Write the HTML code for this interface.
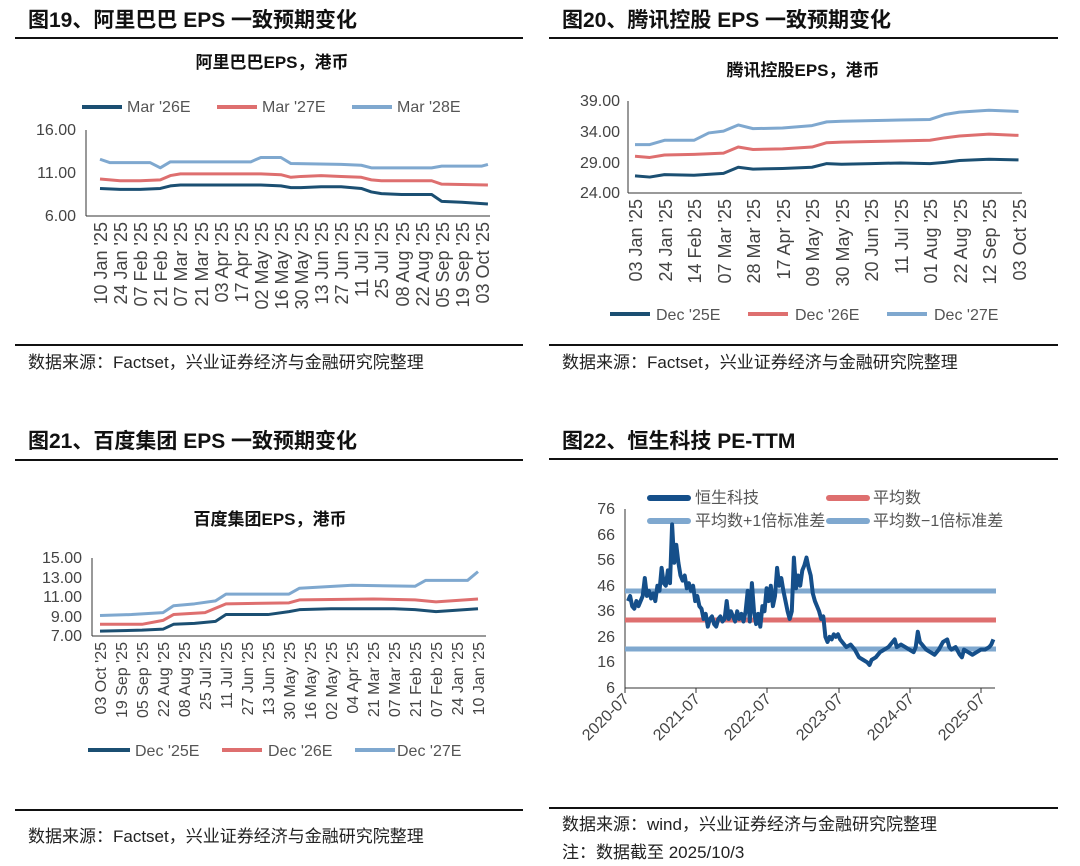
<!DOCTYPE html>
<html><head><meta charset="utf-8"><style>
html,body{margin:0;padding:0;background:#fff;}
svg{display:block;font-family:"Liberation Sans","Noto Sans CJK SC",sans-serif;}
.t{font-size:21px;font-weight:bold;fill:#111}
.ct{font-size:17px;font-weight:bold;fill:#111}
.s{font-size:17px;fill:#222}
.tk{font-size:16px;fill:#444}
.xl{font-size:18px;fill:#444}
.xl3{font-size:16px;fill:#444}
.xl4{font-size:16px;fill:#444}
.lg{font-size:16px;fill:#555}
</style></head><body>
<svg width="1080" height="866" viewBox="0 0 1080 866" xmlns="http://www.w3.org/2000/svg">
<!-- Panel 1 -->
<text x="28" y="27" class="t">图19、阿里巴巴 EPS 一致预期变化</text>
<line x1="15" y1="38" x2="523" y2="38" stroke="#111" stroke-width="2"/>
<text x="272" y="68" class="ct" text-anchor="middle">阿里巴巴EPS，港币</text>
<line x1="82" y1="107" x2="122" y2="107" stroke="#1b4f72" stroke-width="4"/><text x="127" y="112" class="lg">Mar '26E</text>
<line x1="217" y1="107" x2="257" y2="107" stroke="#de6f6f" stroke-width="4"/><text x="262" y="112" class="lg">Mar '27E</text>
<line x1="352" y1="107" x2="392" y2="107" stroke="#7fa8cf" stroke-width="4"/><text x="397" y="112" class="lg">Mar '28E</text>
<g class="tk" text-anchor="end"><text x="76" y="135">16.00</text><text x="76" y="178">11.00</text><text x="76" y="221">6.00</text></g>
<line x1="86" y1="130" x2="86" y2="216" stroke="#333"/><line x1="86" y1="216" x2="490" y2="216" stroke="#333"/>
<g transform="translate(100,216) scale(20.1,-8.6) translate(0,-6)" fill="none" stroke-width="3" stroke-linejoin="round">
<polyline vector-effect="non-scaling-stroke" stroke="#7fa8cf" points="0,12.6 0.5,12.2 2,12.2 2.5,12.2 3,11.6 3.5,12.3 7.5,12.3 8,12.8 9,12.8 9.5,12.1 12,12.0 13,11.9 13.5,11.6 16.5,11.6 17,11.8 19,11.8 19.3,12.0"/>
<polyline vector-effect="non-scaling-stroke" stroke="#de6f6f" points="0,10.3 1,10.1 2,10.1 3,10.2 3.5,10.7 4,10.9 8,10.9 9,10.8 9.5,10.5 10,10.6 11,10.7 12,10.6 13,10.5 13.5,10.2 14,10.1 16.5,10.1 17,9.7 19.3,9.6"/>
<polyline vector-effect="non-scaling-stroke" stroke="#1b4f72" points="0,9.2 1,9.1 2,9.1 3,9.2 3.5,9.5 4,9.6 8,9.6 9,9.5 9.5,9.3 10,9.3 11,9.4 12,9.4 13,9.2 13.5,8.8 14,8.6 15,8.5 16.5,8.5 17,7.7 18,7.6 19.3,7.4"/>
</g>
<g class="xl" text-anchor="end">
<text transform="translate(107,222) rotate(-90)">10 Jan '25</text><text transform="translate(127,222) rotate(-90)">24 Jan '25</text><text transform="translate(147,222) rotate(-90)">07 Feb '25</text><text transform="translate(167,222) rotate(-90)">21 Feb '25</text><text transform="translate(187,222) rotate(-90)">07 Mar '25</text><text transform="translate(208,222) rotate(-90)">21 Mar '25</text><text transform="translate(228,222) rotate(-90)">03 Apr '25</text><text transform="translate(248,222) rotate(-90)">17 Apr '25</text><text transform="translate(268,222) rotate(-90)">02 May '25</text><text transform="translate(288,222) rotate(-90)">16 May '25</text><text transform="translate(308,222) rotate(-90)">30 May '25</text><text transform="translate(328,222) rotate(-90)">13 Jun '25</text><text transform="translate(348,222) rotate(-90)">27 Jun '25</text><text transform="translate(368,222) rotate(-90)">11 Jul '25</text><text transform="translate(388,222) rotate(-90)">25 Jul '25</text><text transform="translate(409,222) rotate(-90)">08 Aug '25</text><text transform="translate(429,222) rotate(-90)">22 Aug '25</text><text transform="translate(449,222) rotate(-90)">05 Sep '25</text><text transform="translate(469,222) rotate(-90)">19 Sep '25</text><text transform="translate(489,222) rotate(-90)">03 Oct '25</text>
</g>
<line x1="15" y1="345" x2="523" y2="345" stroke="#111" stroke-width="2"/>
<text x="28" y="368" class="s">数据来源：Factset，兴业证券经济与金融研究院整理</text>

<!-- Panel 2 -->
<text x="562" y="27" class="t">图20、腾讯控股 EPS 一致预期变化</text>
<line x1="549" y1="38" x2="1058" y2="38" stroke="#111" stroke-width="2"/>
<text x="803" y="76" class="ct" text-anchor="middle">腾讯控股EPS，港币</text>
<g class="tk" text-anchor="end"><text x="620" y="106">39.00</text><text x="620" y="137">34.00</text><text x="620" y="168">29.00</text><text x="620" y="198">24.00</text></g>
<line x1="628" y1="101" x2="628" y2="193" stroke="#333"/><line x1="628" y1="193" x2="1022" y2="193" stroke="#333"/>
<g transform="translate(635,193) scale(29.5,-6.13) translate(0,-24)" fill="none" stroke-width="3" stroke-linejoin="round">
<polyline vector-effect="non-scaling-stroke" stroke="#7fa8cf" points="0,31.9 0.5,31.9 1,32.6 2,32.6 2.5,33.8 3,34.1 3.5,35.1 4,34.5 5,34.6 6,35.0 6.5,35.6 7,35.7 8,35.8 9,35.9 10,36.0 10.5,36.8 11,37.2 12,37.5 13,37.3"/>
<polyline vector-effect="non-scaling-stroke" stroke="#de6f6f" points="0,30.0 0.5,29.8 1,30.2 2,30.3 3,30.5 3.5,31.5 4,31.1 5,31.2 6,31.5 6.5,32.2 7,32.3 8,32.4 9,32.5 10,32.6 10.5,33.0 11,33.3 12,33.6 13,33.4"/>
<polyline vector-effect="non-scaling-stroke" stroke="#1b4f72" points="0,26.8 0.5,26.6 1,27 2,26.9 3,27.2 3.5,28.2 4,27.9 5,28.0 6,28.2 6.5,28.8 7,28.7 8,28.8 9,28.9 10,28.8 10.5,29.0 11,29.3 12,29.5 13,29.4"/>
</g>
<g class="xl" text-anchor="end">
<text transform="translate(642,199) rotate(-90)">03 Jan '25</text><text transform="translate(672,199) rotate(-90)">24 Jan '25</text><text transform="translate(701,199) rotate(-90)">14 Feb '25</text><text transform="translate(731,199) rotate(-90)">07 Mar '25</text><text transform="translate(760,199) rotate(-90)">28 Mar '25</text><text transform="translate(790,199) rotate(-90)">17 Apr '25</text><text transform="translate(819,199) rotate(-90)">09 May '25</text><text transform="translate(849,199) rotate(-90)">30 May '25</text><text transform="translate(878,199) rotate(-90)">20 Jun '25</text><text transform="translate(908,199) rotate(-90)">11 Jul '25</text><text transform="translate(937,199) rotate(-90)">01 Aug '25</text><text transform="translate(967,199) rotate(-90)">22 Aug '25</text><text transform="translate(996,199) rotate(-90)">12 Sep '25</text><text transform="translate(1026,199) rotate(-90)">03 Oct '25</text>
</g>
<line x1="610" y1="314" x2="650" y2="314" stroke="#1b4f72" stroke-width="4"/><text x="656" y="320" class="lg">Dec '25E</text>
<line x1="748" y1="314" x2="788" y2="314" stroke="#de6f6f" stroke-width="4"/><text x="795" y="320" class="lg">Dec '26E</text>
<line x1="887" y1="314" x2="927" y2="314" stroke="#7fa8cf" stroke-width="4"/><text x="934" y="320" class="lg">Dec '27E</text>
<line x1="549" y1="345" x2="1058" y2="345" stroke="#111" stroke-width="2"/>
<text x="562" y="368" class="s">数据来源：Factset，兴业证券经济与金融研究院整理</text>

<!-- Panel 3 -->
<text x="28" y="448" class="t">图21、百度集团 EPS 一致预期变化</text>
<line x1="15" y1="460" x2="523" y2="460" stroke="#111" stroke-width="2"/>
<text x="270" y="525" class="ct" text-anchor="middle">百度集团EPS，港币</text>
<g class="tk" text-anchor="end"><text x="82" y="563">15.00</text><text x="82" y="583">13.00</text><text x="82" y="602">11.00</text><text x="82" y="622">9.00</text><text x="82" y="641">7.00</text></g>
<line x1="92" y1="558" x2="92" y2="636" stroke="#333"/><line x1="92" y1="636" x2="486" y2="636" stroke="#333"/>
<g transform="translate(100,636) scale(21,-9.75) translate(0,-7)" fill="none" stroke-width="3" stroke-linejoin="round">
<polyline vector-effect="non-scaling-stroke" stroke="#7fa8cf" points="0,9.1 1.5,9.2 3,9.4 3.5,10.1 4.5,10.3 5.5,10.6 6,11.3 9,11.3 9.5,11.9 12,12.2 15,12.1 15.5,12.7 17.5,12.7 18,13.6"/>
<polyline vector-effect="non-scaling-stroke" stroke="#de6f6f" points="0,8.2 2,8.2 3,8.6 3.5,9.2 5,9.4 6,10.3 9,10.4 9.5,10.7 13,10.8 15,10.7 16,10.5 18,10.8"/>
<polyline vector-effect="non-scaling-stroke" stroke="#1b4f72" points="0,7.5 2,7.6 3,7.7 3.5,8.2 4.5,8.3 5.5,8.5 6,9.2 8,9.2 9,9.5 9.5,9.7 11,9.8 14,9.8 15,9.7 16,9.5 18,9.8"/>
</g>
<g class="xl3" text-anchor="end">
<text transform="translate(106,642) rotate(-90)">03 Oct '25</text><text transform="translate(127,642) rotate(-90)">19 Sep '25</text><text transform="translate(148,642) rotate(-90)">05 Sep '25</text><text transform="translate(169,642) rotate(-90)">22 Aug '25</text><text transform="translate(190,642) rotate(-90)">08 Aug '25</text><text transform="translate(211,642) rotate(-90)">25 Jul '25</text><text transform="translate(232,642) rotate(-90)">11 Jul '25</text><text transform="translate(253,642) rotate(-90)">27 Jun '25</text><text transform="translate(274,642) rotate(-90)">13 Jun '25</text><text transform="translate(295,642) rotate(-90)">30 May '25</text><text transform="translate(316,642) rotate(-90)">16 May '25</text><text transform="translate(337,642) rotate(-90)">02 May '25</text><text transform="translate(358,642) rotate(-90)">04 Apr '25</text><text transform="translate(379,642) rotate(-90)">21 Mar '25</text><text transform="translate(400,642) rotate(-90)">07 Mar '25</text><text transform="translate(421,642) rotate(-90)">21 Feb '25</text><text transform="translate(442,642) rotate(-90)">07 Feb '25</text><text transform="translate(463,642) rotate(-90)">24 Jan '25</text><text transform="translate(484,642) rotate(-90)">10 Jan '25</text>
</g>
<line x1="88" y1="750" x2="130" y2="750" stroke="#1b4f72" stroke-width="4"/><text x="135" y="756" class="lg">Dec '25E</text>
<line x1="222" y1="750" x2="262" y2="750" stroke="#de6f6f" stroke-width="4"/><text x="268" y="756" class="lg">Dec '26E</text>
<line x1="355" y1="750" x2="395" y2="750" stroke="#7fa8cf" stroke-width="4"/><text x="397" y="756" class="lg">Dec '27E</text>
<line x1="15" y1="810" x2="523" y2="810" stroke="#111" stroke-width="2"/>
<text x="28" y="842" class="s">数据来源：Factset，兴业证券经济与金融研究院整理</text>

<!-- Panel 4 -->
<text x="562" y="448" class="t">图22、恒生科技 PE-TTM</text>
<line x1="549" y1="459" x2="1058" y2="459" stroke="#111" stroke-width="2"/>
<line x1="650" y1="498" x2="688" y2="498" stroke="#154f8a" stroke-width="6" stroke-linecap="round"/><text x="695" y="503" class="lg">恒生科技</text>
<line x1="829" y1="498" x2="867" y2="498" stroke="#de6f6f" stroke-width="6" stroke-linecap="round"/><text x="873" y="503" class="lg">平均数</text>
<line x1="650" y1="521" x2="688" y2="521" stroke="#7fa8cf" stroke-width="6" stroke-linecap="round"/><text x="695" y="526" class="lg">平均数+1倍标准差</text>
<line x1="829" y1="521" x2="867" y2="521" stroke="#7fa8cf" stroke-width="6" stroke-linecap="round"/><text x="873" y="526" class="lg">平均数−1倍标准差</text>
<g class="tk" text-anchor="end"><text x="615" y="514">76</text><text x="615" y="540">66</text><text x="615" y="565">56</text><text x="615" y="591">46</text><text x="615" y="616">36</text><text x="615" y="642">26</text><text x="615" y="667">16</text><text x="615" y="693">6</text></g>
<line x1="625" y1="509" x2="625" y2="688" stroke="#333"/><line x1="625" y1="688" x2="995" y2="688" stroke="#333"/>
<g stroke="#333"><line x1="625" y1="688" x2="625" y2="693"/><line x1="696" y1="688" x2="696" y2="693"/><line x1="767" y1="688" x2="767" y2="693"/><line x1="839" y1="688" x2="839" y2="693"/><line x1="910" y1="688" x2="910" y2="693"/><line x1="981" y1="688" x2="981" y2="693"/></g>
<line x1="625" y1="591" x2="996" y2="591" stroke="#7fa8cf" stroke-width="5"/>
<line x1="625" y1="620" x2="996" y2="620" stroke="#de6f6f" stroke-width="5"/>
<line x1="625" y1="649" x2="996" y2="649" stroke="#7fa8cf" stroke-width="5"/>
<g transform="translate(628,688) scale(4.2,-2.557) translate(0,-6)" fill="none">
<polyline vector-effect="non-scaling-stroke" stroke="#154f8a" stroke-width="4" stroke-linejoin="round" points="0,40 0.5,42 1,38 1.5,37 2,40 2.5,38 3,40 3.5,42 4,49 4.5,42 5,44 5.5,41 6,43 6.5,40 7,46 7.5,44 8,53 8.5,47 9,46 9.5,52 10,47 10.5,70 11,55 11.5,62 12,55 12.5,50 13,48 13.5,50 14,45 14.5,47 15,44 15.5,46 16,40 16.5,42 17,38 17.5,37 18,33 18.5,35 19,30 19.5,33 20,34 20.5,31 21,30 21.5,33 22,34 22.5,32 23,33 23.5,40 24,33 24.5,36 25,34 25.5,32 26,36 26.5,33 27,35 27.5,32 28,36 28.5,44 29,32 29.5,47 30,36 30.5,31 31,35 31.5,30 32,38 32.5,36 33,45 33.5,40 34,46 34.5,38 35,42 35.5,53 36,46 36.5,49 37,44 37.5,40 38,36 38.5,33 39,36 39.5,57 40,45 40.5,50 41,46 41.5,52 42,54 42.5,57 43,53 43.5,50 44,43 44.5,40 45,38 45.5,36 46,33 46.5,34 47,26 47.5,24 48,26 48.5,25 49,27 49.5,26 50,27 50.5,25 51,24 52,22 53,23 54,21 55,18 56,17 57,16 57.5,15 58,17 59,18 60,20 61,21 62,22 63,24 63.5,25 64,22 65,23 66,22 67,21 68,20 68.5,22 69,28 69.5,24 70,23 71,21 72,20 73,19 74,21 75,24 76,25 76.5,22 77,21 78,22 79,19 79.5,18 80,21 81,20 82,19 83,20 84,21 85,21 86,22 86.5,23 87,25"/>
</g>
<g class="xl4" text-anchor="end">
<text transform="translate(630,700) rotate(-45)">2020-07</text><text transform="translate(701,700) rotate(-45)">2021-07</text><text transform="translate(772,700) rotate(-45)">2022-07</text><text transform="translate(844,700) rotate(-45)">2023-07</text><text transform="translate(915,700) rotate(-45)">2024-07</text><text transform="translate(986,700) rotate(-45)">2025-07</text>
</g>
<line x1="549" y1="808" x2="1058" y2="808" stroke="#111" stroke-width="2"/>
<text x="562" y="830" class="s">数据来源：wind，兴业证券经济与金融研究院整理</text>
<text x="562" y="858" class="s">注：数据截至 2025/10/3</text>
</svg>
</body></html>
